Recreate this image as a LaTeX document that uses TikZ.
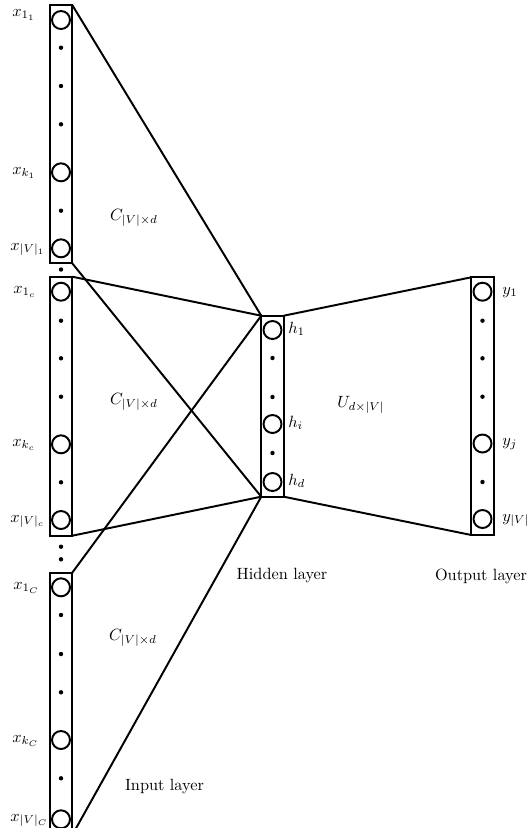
\documentclass[tikz,border=0pt]{standalone}
\begin{document}
\begin{tikzpicture}[x=0.6135pt,y=-0.6135pt,
  lay/.style={draw, line width=1.2pt, rectangle, minimum width=22.5*0.6135pt, inner sep=0pt, outer sep=0pt},
  neu/.style={draw, circle, line width=1.2pt, minimum size=18*0.6135pt, inner sep=0pt},
  dotn/.style={fill, circle, minimum size=4.4*0.6135pt, inner sep=0pt},
  conn/.style={line width=1.2pt},
  lab/.style={inner sep=0pt}]
\clip (0,0) rectangle (528,828);
% layer boxes
\node[lay, minimum height=258.3*0.6135pt] (in1) at (61,134.15) {};
\node[lay, minimum height=259*0.6135pt] (in2) at (61,406.2) {};
\node[lay, minimum height=262.3*0.6135pt] (in3) at (61,703.85) {};
\node[lay, minimum height=181*0.6135pt] (hid) at (272.5,406.2) {};
\node[lay, minimum height=257.7*0.6135pt] (out) at (482.5,406.15) {};
% input column 1
\node[neu] (a1) at (61,20) {};
\node[neu] (ak) at (61,172.3) {};
\node[neu] (av) at (61,248.3) {};
\foreach \y [count=\i] in {47.7,86,124.3,210.7} \node[dotn] (ad\i) at (61,\y) {};
% input column 2
\node[neu] (b1) at (61,291.7) {};
\node[neu] (bk) at (61,444.3) {};
\node[neu] (bv) at (61,520) {};
\foreach \y [count=\i] in {320.7,358.3,396.7,482.3} \node[dotn] (bd\i) at (61,\y) {};
% input column 3
\node[neu] (c1) at (61,587.3) {};
\node[neu] (ck) at (61,740) {};
\node[neu] (cv) at (61,819.3) {};
\foreach \y [count=\i] in {615,654,692.3,778.3} \node[dotn] (cd\i) at (61,\y) {};
% dots between columns
\node[dotn] (g1) at (61,269.5) {};
\node[dotn] (g2) at (61,546.7) {};
\node[dotn] (g3) at (61,559.3) {};
% hidden
\node[neu] (h1) at (272.5,330) {};
\node[neu] (hi) at (272.5,424) {};
\node[neu] (hd) at (272.5,482) {};
\foreach \y [count=\i] in {358,397,453} \node[dotn] (hdt\i) at (272.5,\y) {};
% output
\node[neu] (y1) at (482.5,291.7) {};
\node[neu] (yj) at (482.5,443.5) {};
\node[neu] (yv) at (482.5,519) {};
\foreach \y [count=\i] in {320.7,358.3,396.7,482} \node[dotn] (ydt\i) at (482.5,\y) {};
% connectors
\draw[conn] (in1.north east) -- (hid.north west);
\draw[conn] (in1.south east) -- (hid.south west);
\draw[conn] (in2.north east) -- (hid.north west);
\draw[conn] (in2.south east) -- (hid.south west);
\draw[conn] (in3.north east) -- (hid.north west);
\draw[conn] (in3.south east) -- (hid.south west);
\draw[conn] (hid.north east) -- (out.north west);
\draw[conn] (hid.south east) -- (out.south west);
% input labels
\node[lab, anchor=base west] (la1) at (12,16) {$x_{1_1}$};
\node[lab, anchor=base west] (lak) at (12,174) {$x_{k_1}$};
\node[lab, anchor=base west] (lav) at (10,250) {$x_{|V|_1}$};
\node[lab, anchor=base west] (lb1) at (13,293) {$x_{1_c}$};
\node[lab, anchor=base west] (lbk) at (12,446) {$x_{k_c}$};
\node[lab, anchor=base west] (lbv) at (10,522) {$x_{|V|_c}$};
\node[lab, anchor=base west] (lc1) at (13,589) {$x_{1_C}$};
\node[lab, anchor=base west] (lck) at (12,742) {$x_{k_C}$};
\node[lab, anchor=base west] (lcv) at (10,821) {$x_{|V|_C}$};
% hidden labels
\node[lab, anchor=base west] (lh1) at (288,333) {$h_1$};
\node[lab, anchor=base west] (lhi) at (288,427) {$h_i$};
\node[lab, anchor=base west] (lhd) at (288,485) {$h_d$};
% output labels
\node[lab, anchor=base west] (ly1) at (502,294) {$y_1$};
\node[lab, anchor=base west] (lyj) at (502,445) {$y_j$};
\node[lab, anchor=base west] (lyv) at (502,521) {$y_{|V|}$};
% matrix labels
\node[lab] (cm1) at (134,218) {$C_{|V|\times d}$};
\node[lab] (cm2) at (134,402) {$C_{|V|\times d}$};
\node[lab] (cm3) at (133,638) {$C_{|V|\times d}$};
\node[lab] (um) at (361,405) {$U_{d\times|V|}$};
% layer titles
\node[lab] (th) at (282,576) {Hidden layer};
\node[lab] (to) at (481,576) {Output layer};
\node[lab] (ti) at (164.5,787) {Input layer};
\end{tikzpicture}
\end{document}
